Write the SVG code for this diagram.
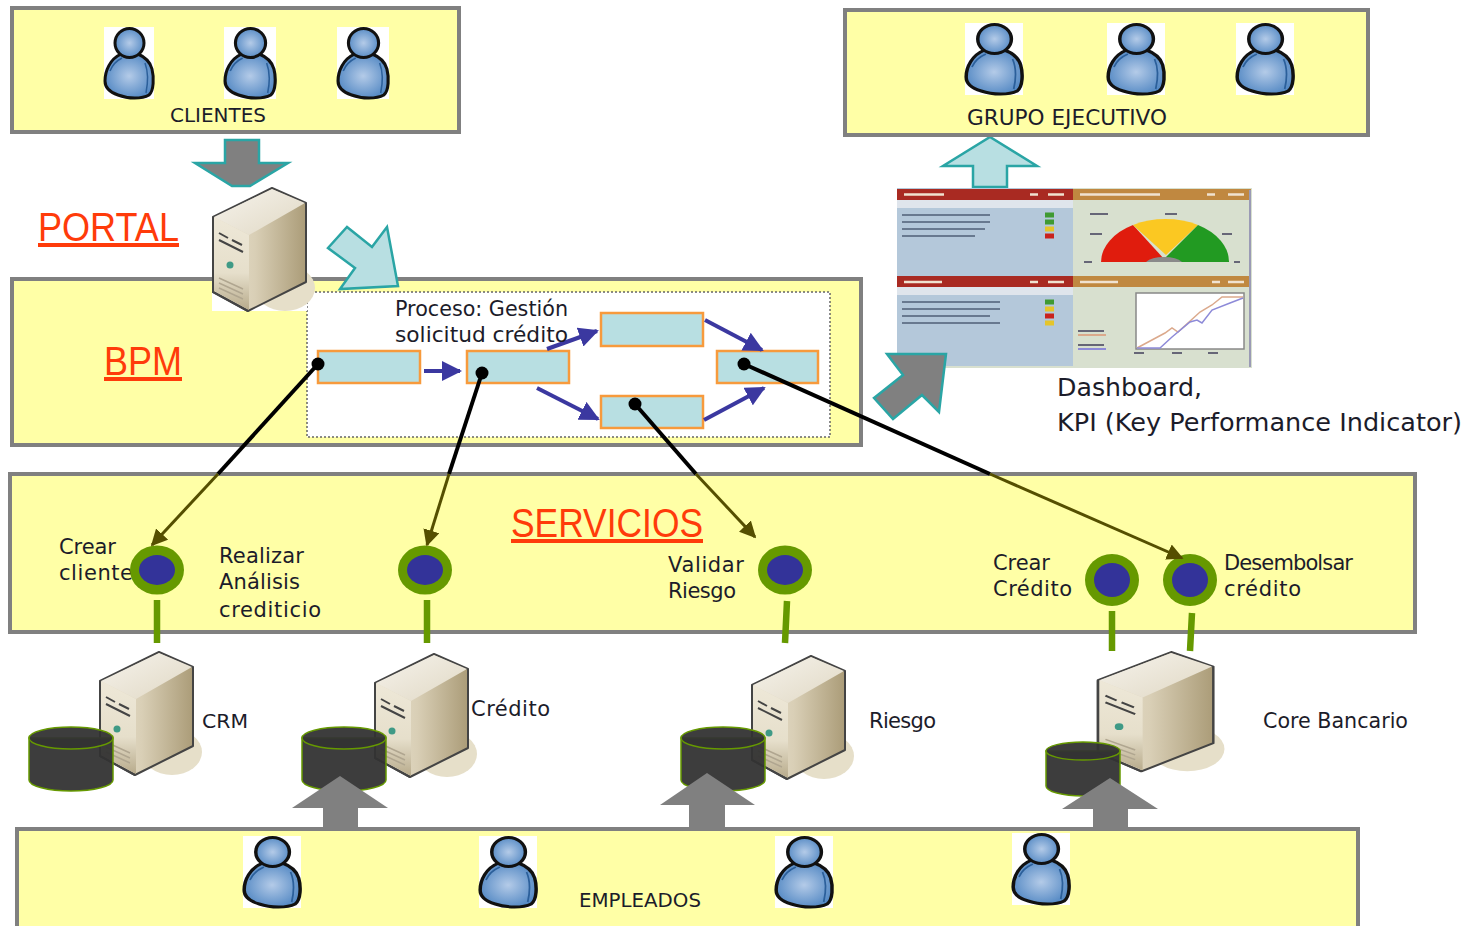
<svg xmlns="http://www.w3.org/2000/svg" xmlns:xlink="http://www.w3.org/1999/xlink" width="1472" height="926" viewBox="0 0 1472 926">
<style>
text{font-family:"DejaVu Sans","Liberation Sans",sans-serif;fill:#1c1c2a}
.panel{fill:#ffffa6;stroke:#808080;stroke-width:4}
.t{font-size:21px}
.s{font-size:20px}
.d{font-size:25px}
.h{font-family:"Liberation Sans",sans-serif;font-size:40px;fill:#ff3b0a;text-decoration:underline}
.step{fill:#b8dfe2;stroke:#f79a3c;stroke-width:2.5}
.flow{stroke:#3b38a0;stroke-width:4;fill:none;marker-end:url(#fa)}
.link{stroke:#000;stroke-width:4;fill:none}
.olive{stroke:#554f00;stroke-width:3;fill:none;marker-end:url(#oa)}
.stem{stroke:#669900;stroke-width:6.5;fill:none}
.ga{fill:#808080;stroke:#2aa5a5;stroke-width:2.5}
.ta{fill:#b8dfe2;stroke:#2aa5a5;stroke-width:2.5}
.ua{fill:#808080}
.cyl{fill:#333;fill-opacity:.95;stroke:#669900;stroke-width:1.5}
</style>
<defs>
<filter id="soft" x="0" y="0" width="1" height="1"><feGaussianBlur stdDeviation="0.7"/></filter>
<marker id="fa" viewBox="0 0 10 10" refX="9" refY="5" markerWidth="5" markerHeight="5" orient="auto"><path d="M0 0L10 5L0 10z" fill="#3b38a0"/></marker>
<marker id="oa" viewBox="0 0 10 10" refX="9" refY="5" markerWidth="5.5" markerHeight="5.5" orient="auto"><path d="M0 0L10 5L0 10z" fill="#554f00"/></marker>
<radialGradient id="pb" cx=".5" cy=".5" r=".6"><stop offset="0" stop-color="#b4cbe8"/><stop offset="1" stop-color="#4a82c0"/></radialGradient>
<linearGradient id="sf" x1="0" y1="0" x2="0" y2="1"><stop offset="0" stop-color="#eee8d8"/><stop offset=".6" stop-color="#e6dfcb"/><stop offset="1" stop-color="#b8ab8c"/></linearGradient>
<linearGradient id="ss" x1="0" y1="0" x2="1" y2="0"><stop offset="0" stop-color="#e9e2d0"/><stop offset=".45" stop-color="#d9cfb6"/><stop offset="1" stop-color="#ab9c78"/></linearGradient>
<linearGradient id="st" x1="0" y1="0" x2="1" y2="1"><stop offset="0" stop-color="#f6f3ec"/><stop offset="1" stop-color="#e0d8c4"/></linearGradient>
<g id="person">
<rect x="0" y="0" width="50" height="72" fill="#fff"/>
<path d="M17 27C6 32 1 44 1 54C1 62 8 66 14 68C24 72 38 72 45 68C50 64 50 50 48 42C46 34 41 30 34 27z" fill="url(#pb)" stroke="#111" stroke-width="3"/>
<circle cx="25.500" cy="16" r="14.500" fill="url(#pb)" stroke="#111" stroke-width="3"/>
<path d="M6 44C9 36 14 33 18 31M41 36c3 8 3 20 1 30" fill="none" stroke="#2b5f9a" stroke-width="1.500"/>
</g>
<g id="server">
<ellipse cx="72" cy="100" rx="30" ry="23" fill="#e6dfc9"/>
<path d="M0 29L59 0L93 15V94L35 123L0 104z" fill="url(#ss)" stroke="#444" stroke-width="2" stroke-linejoin="round"/>
<path d="M1 29L59 1L92 15L36 47z" fill="url(#st)"/>
<path d="M1 29L36 47V122L1 103z" fill="url(#sf)"/>
<path d="M0 29V104L35 123" fill="none" stroke="#444" stroke-width="2"/>
<path d="M6 45l9 5M19 52l10 5M6 52l24 12" stroke="#444" stroke-width="2"/>
<circle cx="17" cy="77" r="3.500" fill="#3f9a86"/>
<path d="M6 90l24 11M6 95l24 11M6 100l24 11" stroke="#b0a690" stroke-width="1.500"/>
</g>
<g id="svc"><ellipse rx="27" ry="24.500" fill="#669900"/><ellipse rx="18" ry="15" fill="#333399"/></g>
<g id="svc-round"><ellipse rx="27" ry="26" fill="#669900"/><ellipse rx="18" ry="17" fill="#333399"/></g>
</defs>
<rect width="1472" height="926" fill="#fff"/>

<g id="arrow-clientes-portal">
<path class="ga" d="M225 140H259V163H288L250 186H232L195 163H225z"/>
</g>
<g id="arrow-ejecutivo">
<path class="ta" d="M973 187V166H943L990 137L1037 166H1007V187z"/>
</g>

<g id="clientes"><rect class="panel" x="12" y="8" width="447" height="124"/>
<use xlink:href="#person" href="#person" x="104" y="27"/>
<g transform="translate(224 27) scale(1.04 1)"><use xlink:href="#person" href="#person"/></g>
<g transform="translate(337 27) scale(1.04 1)"><use xlink:href="#person" href="#person"/></g>
<text class="s" x="170" y="122" textLength="96" lengthAdjust="spacingAndGlyphs">CLIENTES</text></g>

<g id="grupo-ejecutivo"><rect class="panel" x="845" y="10" width="523" height="125"/>
<g transform="translate(965 23) scale(1.16 1)"><use xlink:href="#person" href="#person"/></g>
<g transform="translate(1107 23) scale(1.16 1)"><use xlink:href="#person" href="#person"/></g>
<g transform="translate(1236 23) scale(1.16 1)"><use xlink:href="#person" href="#person"/></g>
<text class="t" x="967" y="125" textLength="200" lengthAdjust="spacingAndGlyphs">GRUPO EJECUTIVO</text></g>

<g id="bpm"><rect class="panel" x="12" y="279" width="849" height="166"/>
<rect x="307" y="292" width="523" height="145" fill="#fff" stroke="#666" stroke-width="1.500" stroke-dasharray="2 2"/>
<text class="h" x="104" y="375" textLength="78" lengthAdjust="spacingAndGlyphs">BPM</text>
<text class="t" x="395" y="316" textLength="173" lengthAdjust="spacingAndGlyphs">Proceso: Gestión</text>
<rect class="step" x="318" y="351" width="102" height="32"/>
<rect class="step" x="467" y="351" width="102" height="32"/>
<rect class="step" x="601" y="313" width="102" height="33"/>
<rect class="step" x="601" y="396" width="102" height="32"/>
<rect class="step" x="717" y="351" width="101" height="32"/></g>

<g id="portal"><text class="h" x="38" y="241" textLength="141" lengthAdjust="spacingAndGlyphs">PORTAL</text>
<rect x="212" y="250" width="95" height="61" fill="#fff"/>
<use xlink:href="#server" href="#server" x="213" y="188"/></g>

<g id="arrow-portal-bpm">
<path class="ta" d="M328 248L347 227L372 247L387 227L398 286L340 289L355 268z"/>
</g>

<g id="dashboard"><g filter="url(#soft)">
<rect x="897" y="188" width="355" height="180" fill="#d8e0cf"/>
<rect x="897" y="188" width="176" height="178" fill="#b4c8da"/>
<rect x="897" y="189" width="176" height="11" fill="#a92a22"/><rect x="1073" y="189" width="178" height="11" fill="#c08840"/>
<rect x="897" y="276" width="176" height="11" fill="#a92a22"/><rect x="1073" y="276" width="178" height="11" fill="#c08840"/>
<rect x="897" y="200" width="176" height="8" fill="#dfe5ec"/><rect x="897" y="287" width="176" height="8" fill="#dfe5ec"/>
<path d="M904 194.500h40M1030 194.500h8M1048 194.500h16M1080 194.500h80M1207 194.500h8M1228 194.500h16M904 282h38M1030 282h8M1048 282h16M1080 282h38M1212 282h8M1228 282h16" stroke="#f0e2d0" stroke-width="2.500"/>
<path d="M902 215H990M902 222H990M902 229H985M902 236H975M902 302H1000M902 309H1000M902 316H990M902 323H1000" stroke="#67798f" stroke-width="2"/>
<path d="M1045 215h9M1045 222h9" stroke="#3f9a30" stroke-width="5"/><path d="M1045 229h9" stroke="#e5c52a" stroke-width="5"/><path d="M1045 236h9" stroke="#c9201a" stroke-width="5"/>
<path d="M1045 302h9" stroke="#3f9a30" stroke-width="5"/><path d="M1045 309h9" stroke="#e5c52a" stroke-width="5"/><path d="M1045 316h9" stroke="#c9201a" stroke-width="5"/><path d="M1045 323h9" stroke="#e5c52a" stroke-width="5"/>
<path d="M1101 262A64 43 0 0 1 1133 225L1165 260L1150 262z" fill="#e01e10"/>
<path d="M1133 225A64 43 0 0 1 1198 225L1166 255z" fill="#fbc823"/>
<path d="M1198 225A64 43 0 0 1 1229 262H1175L1165 258z" fill="#249a24"/>
<path d="M1146 262a20 9 0 0 1 36 0z" fill="#8a8a8a"/>
<path d="M1090 214h18M1165 214h12M1090 234h12M1222 234h10M1084 262h8M1234 262h6" stroke="#667" stroke-width="2"/>
<rect x="1136" y="293" width="108" height="56" fill="#fff" stroke="#888" stroke-width="1.500"/>
<path d="M1137 348L1165 333L1172 328L1178 332L1200 312L1212 305L1222 297H1243" stroke="#dba98c" stroke-width="1.500" fill="none"/>
<path d="M1137 348H1160L1172 337L1190 322L1197 320L1202 323L1212 310L1230 303L1243 298" stroke="#8d8ad8" stroke-width="1.500" fill="none"/>
<path d="M1078 331h26M1078 345h26" stroke="#667" stroke-width="2"/>
<path d="M1078 335h28" stroke="#dba98c" stroke-width="2"/><path d="M1078 349h28" stroke="#8d8ad8" stroke-width="2"/>
<path d="M1134 353h10M1172 353h10M1208 353h10" stroke="#667" stroke-width="2"/>
<path d="M1250 190V367" stroke="#9a9ab5" stroke-width="2"/>
</g></g>
<g id="dashboard-label">
<text class="d" x="1057" y="396" textLength="145" lengthAdjust="spacingAndGlyphs">Dashboard,</text>
<text class="d" x="1057" y="431" textLength="405" lengthAdjust="spacingAndGlyphs">KPI (Key Performance Indicator)</text>
</g>
<path id="arrow-dashboard" class="ga" d="M874 398L903 375L887 354H946L939 412L922 395L893 419z"/>

<g id="servicios"><rect class="panel" x="10" y="474" width="1405" height="158"/>
<text class="h" x="511" y="537" textLength="192" lengthAdjust="spacingAndGlyphs">SERVICIOS</text>
<text class="t" x="59" y="554" textLength="57">Crear</text><text class="t" x="59" y="580" textLength="74">cliente</text>
<text class="t" x="219" y="563" textLength="85">Realizar</text><text class="t" x="219" y="589" textLength="81">Análisis</text><text class="t" x="219" y="617" textLength="102">crediticio</text>
<text class="t" x="668" y="572" textLength="76">Validar</text><text class="t" x="668" y="598" textLength="68">Riesgo</text>
<text class="t" x="993" y="570" textLength="57">Crear</text><text class="t" x="993" y="596" textLength="79">Crédito</text>
<text class="t" x="1224" y="570" textLength="129">Desembolsar</text><text class="t" x="1224" y="596" textLength="77">crédito</text></g>

<g id="svc-crear-cliente"><use xlink:href="#svc" href="#svc" x="157" y="570"/></g>
<g id="svc-analisis"><use xlink:href="#svc" href="#svc" x="425" y="570"/></g>
<g id="svc-validar"><use xlink:href="#svc" href="#svc" x="785" y="570"/></g>
<g id="svc-crear-credito"><use xlink:href="#svc-round" href="#svc-round" x="1112" y="580"/></g>
<g id="svc-desembolsar"><use xlink:href="#svc-round" href="#svc-round" x="1190" y="580"/></g>

<g id="connectors">
<path class="flow" d="M424 371H460"/>
<path class="flow" d="M547 349L597 331"/>
<path class="flow" d="M537 388L598 419"/>
<path class="flow" d="M705 320L762 350"/>
<path class="flow" d="M704 420L764 388"/>
<path class="link" d="M318 364L218 474"/>
<path class="olive" d="M218 474L152 545"/>
<path class="link" d="M482 373L449 474"/>
<path class="olive" d="M449 474L427 545"/>
<path class="link" d="M635 404L696 474"/>
<path class="olive" d="M696 474L755 537"/>
<path class="link" d="M744 364L990 474"/>
<path class="olive" d="M990 474L1182 558"/>
<circle cx="318" cy="364" r="6.500"/><circle cx="482" cy="373" r="6.500"/><circle cx="635" cy="404" r="6.500"/><circle cx="744" cy="364" r="6.500"/>
<path class="stem" d="M157 600V643M427 600V643M787 601L785 643M1112 611V651M1192 613L1190 651"/>
</g>
<text class="t" x="395" y="342" textLength="173" lengthAdjust="spacingAndGlyphs">solicitud crédito</text>

<g id="crm"><use xlink:href="#server" href="#server" x="100" y="652"/>
<path class="cyl" d="M29 738V780A42 11 0 0 0 113 780V738z"/><ellipse class="cyl" cx="71" cy="738" rx="42" ry="11"/>
<text class="s" x="202" y="728" textLength="46" lengthAdjust="spacingAndGlyphs">CRM</text></g>
<g id="credito"><use xlink:href="#server" href="#server" x="375" y="654"/>
<path class="cyl" d="M302 738V780A42 11 0 0 0 386 780V738z"/><ellipse class="cyl" cx="344" cy="738" rx="42" ry="11"/>
<text class="t" x="471" y="716" textLength="79">Crédito</text></g>
<g id="riesgo"><use xlink:href="#server" href="#server" x="752" y="656"/>
<path class="cyl" d="M681 738V780A42 11 0 0 0 765 780V738z"/><ellipse class="cyl" cx="723" cy="738" rx="42" ry="11"/>
<text class="t" x="869" y="728" textLength="67">Riesgo</text></g>
<g id="core-bancario"><g transform="translate(1098 652) scale(1.24 .97)"><use xlink:href="#server" href="#server"/></g>
<path class="cyl" d="M1046 751V786A37 10 0 0 0 1120 786V751z"/><ellipse class="cyl" cx="1083" cy="751" rx="37" ry="9"/>
<text class="t" x="1263" y="728" textLength="145" lengthAdjust="spacingAndGlyphs">Core Bancario</text></g>

<g id="empleados"><rect class="panel" x="17" y="829" width="1341" height="110"/>
<g transform="translate(243 836) scale(1.16 1)"><use xlink:href="#person" href="#person"/></g>
<g transform="translate(479 836) scale(1.16 1)"><use xlink:href="#person" href="#person"/></g>
<g transform="translate(775 836) scale(1.16 1)"><use xlink:href="#person" href="#person"/></g>
<g transform="translate(1012 833) scale(1.16 1)"><use xlink:href="#person" href="#person"/></g>
<text class="s" x="579" y="907" textLength="122" lengthAdjust="spacingAndGlyphs">EMPLEADOS</text></g>

<g id="arrows-up">
<path class="ua" d="M323 828V808H292L340 776L388 808H358V828z"/>
<path class="ua" d="M689 828V805H660L707 773L755 805H725V828z"/>
<path class="ua" d="M1093 828V809H1062L1110 778L1158 809H1128V828z"/>
</g>
</svg>
